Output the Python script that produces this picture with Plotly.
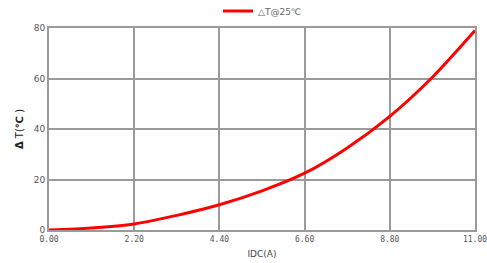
import plotly.graph_objects as go

idc = [0, 1.1, 2.2, 3.3, 4.4, 5.5, 6.6, 7.7, 8.8, 9.9, 11.0]
delta_t = [0, 0.8, 2.4, 5.8, 10.0, 15.5, 22.5, 32.5, 45.0, 60.5, 79.0]
x_ticks = [0, 2.2, 4.4, 6.6, 8.8, 11.0]
x_tick_labels = ["0.00", "2.20", "4.40", "6.60", "8.80", "11.00"]
y_ticks = [0, 20, 40, 60, 80]

fig = go.Figure()
fig.add_trace(go.Scatter(
    x=idc, y=delta_t, mode="lines", name="△T@25℃",
    line=dict(color="#ff0000", width=3, shape="spline", smoothing=0.8),
))

grid = "#9a9a9a"
fig.update_layout(
    width=487, height=263,
    margin=dict(l=49, r=12, t=28, b=33, autoexpand=False),
    paper_bgcolor="white", plot_bgcolor="white",
    font=dict(family="DejaVu Sans", size=9, color="#555555"),
    showlegend=True,
    legend=dict(orientation="h", x=0.5, xanchor="center",
                yref="container", y=1 - 11 / 263, yanchor="middle",
                font=dict(size=9, color="#666666"),
                bgcolor="rgba(0,0,0,0)"),
    xaxis=dict(range=[0, 11], tickvals=x_ticks, ticktext=x_tick_labels,
               showgrid=True, gridcolor=grid, gridwidth=2, automargin=False,
               showline=True, linecolor=grid, linewidth=2, mirror=True,
               zeroline=False, ticks="", ticklen=0, ticklabeloverflow="allow",
               title=dict(text="IDC(A)", font=dict(size=9, color="#444444"), standoff=8),
               tickfont=dict(family="DejaVu Sans Mono", size=8, color="#555555")),
    yaxis=dict(range=[0, 80], tickvals=y_ticks, automargin=False,
               showgrid=True, gridcolor=grid, gridwidth=2,
               showline=True, linecolor=grid, linewidth=2, mirror=True,
               zeroline=False, ticks="", ticklen=0,
               title=dict(text="<b>Δ</b> T(<b>℃</b> )", font=dict(size=10, color="#222222"), standoff=8),
               tickfont=dict(size=9, color="#555555")),
)
fig.write_html("out.html", config={"displayModeBar": False},
               post_script="document.body.style.margin='0';document.body.style.padding='0';")
